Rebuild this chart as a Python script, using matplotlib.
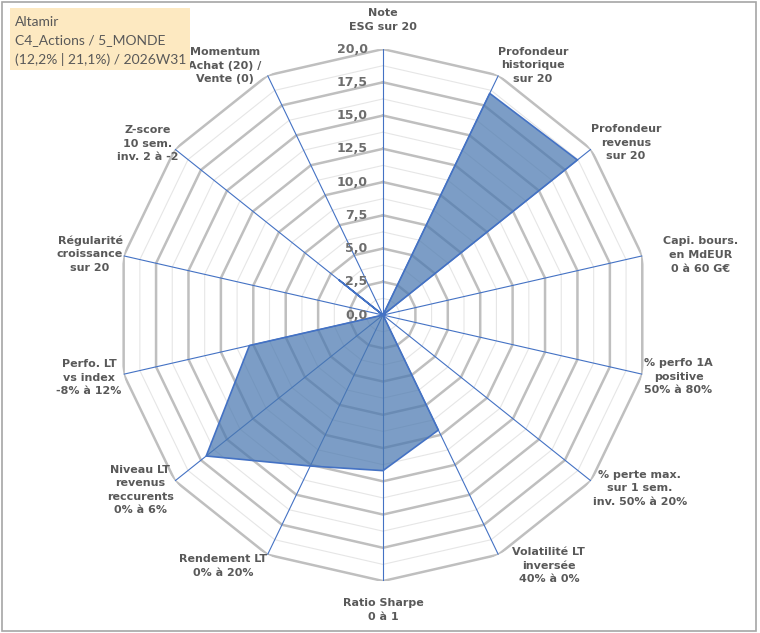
import numpy as np
import matplotlib
matplotlib.use('Agg')
import matplotlib.pyplot as plt
from matplotlib.patches import Rectangle

# axes du radar (ordre horaire depuis le haut)
categories = ['Note\nESG sur 20',
              'Profondeur\nhistorique\nsur 20',
              'Profondeur\nrevenus\nsur 20',
              'Capi. bours.\nen MdEUR\n0 à 60 G€',
              '% perfo 1A\npositive\n50% à 80%',
              '% perte max.\nsur 1 sem.\ninv. 50% à 20%',
              'Volatilité LT\ninversée\n40% à 0%',
              'Ratio Sharpe\n0 à 1',
              'Rendement LT\n0% à 20%',
              'Niveau LT\nrevenus\nreccurents\n0% à 6%',
              'Perfo. LT\nvs index\n-8% à 12%',
              'Régularité\ncroissance\nsur 20',
              'Z-score\n10 sem.\ninv. 2 à -2',
              'Momentum\nAchat (20) /\nVente (0)']
scores = [0, 18.5, 18.7, 0, 0, 0, 9.6, 11.7, 12.6, 17.0, 10.3, 0, 4.2, 0]
r_ticks = [0, 2.5, 5, 7.5, 10, 12.5, 15, 17.5, 20]
tick_labels = ['0,0', '2,5', '5,0', '7,5', '10,0', '12,5', '15,0', '17,5', '20,0']
title_lines = 'Altamir\nC4_Actions / 5_MONDE\n(12,2% | 21,1%) / 2026W31'

# position des libellés (angle en degrés, rayon)
label_pos = [(0, 22.2), (31, 21.9), (54.7, 22.4), (79.3, 24.3), (101.8, 22.7),
             (124, 23.3), (146.5, 22.6), (180, 22.2), (212.5, 22.4), (234.2, 22.5),
             (258, 22.6), (281.8, 22.5), (306, 21.9), (327.6, 22.2)]

grey = '#595959'
blue = '#4472C4'

fig = plt.figure(figsize=(7.6, 6.33), dpi=100)
ax = fig.add_axes([0.1539, 0.0821, 0.7, 0.8404], projection='polar')
ax.set_theta_zero_location('N')
ax.set_theta_direction(-1)
ax.set_ylim(0, 20)
ax.set_xticks([])
ax.set_yticks([])
ax.grid(False)
ax.spines['polar'].set_visible(False)
ax.patch.set_visible(False)

n = len(categories)
angles = np.linspace(0, 2 * np.pi, n, endpoint=False)
closed = np.append(angles, angles[0])

# anneaux polygonaux
for r in np.arange(1.25, 20.01, 1.25):
    major = abs(r / 2.5 - round(r / 2.5)) < 1e-6
    ax.plot(closed, [r] * (n + 1),
            color='#bfbfbf' if major else '#e6e6e6',
            lw=1.8 if major else 0.8, zorder=1)

# rayons
for a in angles:
    ax.plot([a, a], [0, 20], color=blue, lw=0.8, zorder=2)

vals = np.append(scores, scores[0])
ax.fill(closed, vals, facecolor='#4a78b0', alpha=0.72, zorder=3)
ax.plot(closed, vals, color=blue, lw=1.2, zorder=4)

for r, t in zip(r_ticks, tick_labels):
    ax.annotate(t, xy=(0, r), xytext=(-11, 0), textcoords='offset points',
                ha='right', va='center', fontsize=9, fontweight='bold',
                color='#6d6d6d', zorder=5)

for lab, (deg, rr) in zip(categories, label_pos):
    ax.text(np.deg2rad(deg), rr, lab, ha='center', va='center', fontsize=8,
            fontweight='bold', color=grey, linespacing=1.45, clip_on=False)

# cartouche
fig.patches.append(Rectangle((10 / 760, 1 - 70 / 633), 180 / 760, 62 / 633,
                             transform=fig.transFigure, facecolor='#fde9c1',
                             edgecolor='none', zorder=0))
fig.text(15 / 760, 1 - 41 / 633, title_lines, ha='left', va='center',
         fontsize=10, family='Lato', color=grey, linespacing=1.6)

# bordure
fig.patches.append(Rectangle((2 / 760, 2 / 633), 754 / 760, 629 / 633,
                             transform=fig.transFigure, facecolor='none',
                             edgecolor='#a6a6a6', lw=1.2))

fig.savefig('out.png', dpi=100)
